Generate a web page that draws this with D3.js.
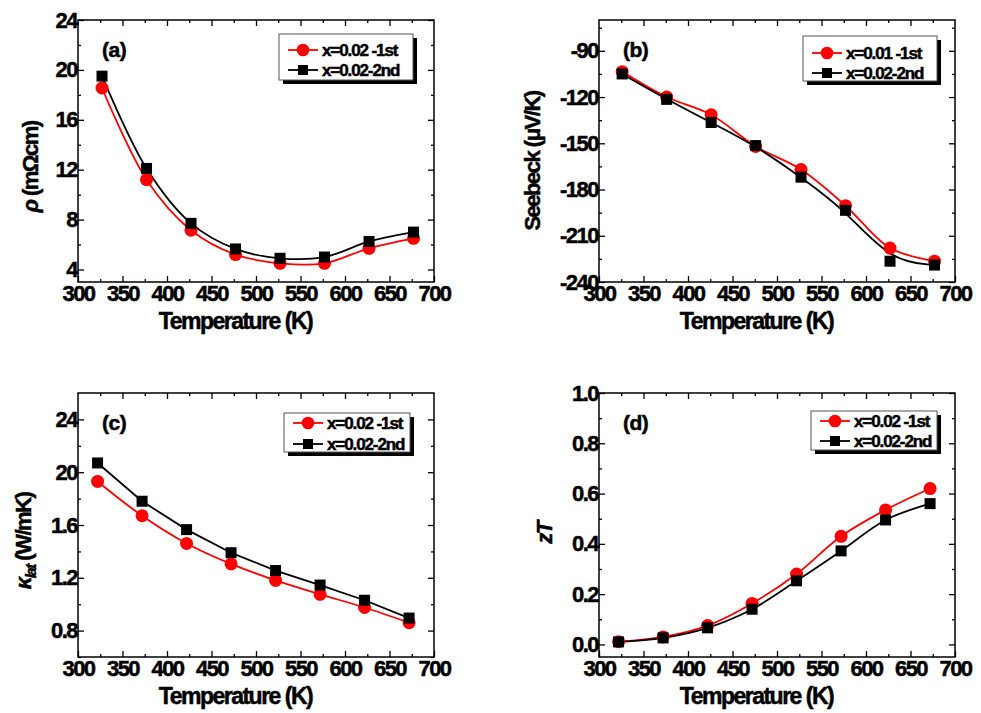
<!DOCTYPE html>
<html>
<head>
<meta charset="utf-8">
<script src="https://cdn.jsdelivr.net/npm/d3@7"></script>
<style>
  body { margin: 0; background: #fff; }
  svg { display: block; font-family: "Liberation Sans", Arial, sans-serif; font-weight: bold; }
  svg text { stroke: #000; stroke-width: 0.5px; }
</style>
</head>
<body>
<svg id="chart" width="981" height="713"></svg>
<script>
// temperatures (K)
const tempA = [327, 377, 427, 477, 527, 577, 627, 677];
const tempB = [326, 376, 426, 476, 527, 577, 627, 677];
const tempC = [322, 372, 422, 472, 522, 572, 622, 672];
const tempD = [322, 372, 422, 472, 522, 572, 622, 672];

// (a) resistivity
const rho1st = [18.55, 11.2, 7.15, 5.2, 4.5, 4.5, 5.7, 6.5];
const rho2nd = [19.5, 12.1, 7.7, 5.65, 4.9, 5.0, 6.25, 7.0];
// (b) Seebeck
const seebeck1st = [-103.5, -120, -131.5, -152, -167, -190.5, -218, -226.5];
const seebeck2nd = [-105, -121.5, -136.5, -151.5, -172, -193.5, -226.5, -229];
// (c) lattice thermal conductivity
const kappa1st = [1.93, 1.67, 1.46, 1.305, 1.18, 1.075, 0.975, 0.86];
const kappa2nd = [2.07, 1.78, 1.565, 1.39, 1.255, 1.145, 1.03, 0.895];
// (d) zT
const zt1st = [0.011, 0.03, 0.075, 0.163, 0.28, 0.43, 0.535, 0.62];
const zt2nd = [0.01, 0.026, 0.066, 0.14, 0.253, 0.372, 0.495, 0.56];

// tick labels
const xTicks = [300, 350, 400, 450, 500, 550, 600, 650, 700];
const ticksA = [4, 8, 12, 16, 20, 24];
const labelsA = ['4', '8', '12', '16', '20', '24'];
const ticksB = [-240, -210, -180, -150, -120, -90];
const labelsB = ['-240', '-210', '-180', '-150', '-120', '-90'];
const ticksC = [0.8, 1.2, 1.6, 2.0, 2.4];
const labelsC = ['0.8', '1.2', '1.6', '20', '24'];
const ticksD = [0, 0.2, 0.4, 0.6, 0.8, 1.0];
const labelsD = ['0.0', '0.2', '0.4', '0.6', '0.8', '1.0'];

const legendA = ['x=0.02 -1st', 'x=0.02-2nd'];
const legendB = ['x=0.01 -1st', 'x=0.02-2nd'];
const legendC = ['x=0.02 -1st', 'x=0.02-2nd'];
const legendD = ['x=0.02 -1st', 'x=0.02-2nd'];

const svg = d3.select('#chart');

const panels = [
  { tag: '(a)', box: [78, 20, 356, 262], yDom: [3, 24], yTicks: ticksA, yLabels: labelsA, minor: 2,
    t: tempA, s1: rho1st, s2: rho2nd, c1: d3.curveCatmullRom, c2: d3.curveCatmullRom,
    legend: legendA, lg: [279, 34, 134, 46], rows: [16, 36], ytX: 38, ytY: 167, ytitle: 'rho' },
  { tag: '(b)', box: [599, 20, 356, 262], yDom: [-240, -70], yTicks: ticksB, yLabels: labelsB, minor: 15,
    t: tempB, s1: seebeck1st, s2: seebeck2nd, c1: d3.curveCatmullRom, c2: d3.curveBasis,
    legend: legendB, lg: [803, 36, 134, 45], rows: [17, 37], ytX: 540, ytY: 161, ytitle: 'seebeck' },
  { tag: '(c)', box: [78, 393, 356, 264], yDom: [0.6, 2.6], yTicks: ticksC, yLabels: labelsC, minor: 0.2,
    t: tempC, s1: kappa1st, s2: kappa2nd, c1: d3.curveCatmullRom, c2: d3.curveLinear,
    legend: legendC, lg: [284, 413, 126, 39], rows: [10, 31], ytX: 31, ytY: 541, ytitle: 'kappa' },
  { tag: '(d)', box: [599, 393, 356, 264], yDom: [-0.05, 1.0], yTicks: ticksD, yLabels: labelsD, minor: 0.1,
    t: tempD, s1: zt1st, s2: zt2nd, c1: d3.curveCatmullRom, c2: d3.curveCatmullRom,
    legend: legendD, lg: [811, 411, 126, 39], rows: [10, 30], ytX: 552, ytY: 533, ytitle: 'zt' }
];

function styleAxis(g, size) {
  g.select('.domain').remove();
  g.selectAll('line').attr('stroke', '#000').attr('stroke-width', 1.3);
  g.selectAll('text')
    .attr('font-family', '"Liberation Sans", Arial, sans-serif')
    .attr('font-weight', 'bold')
    .attr('font-size', size)
    .attr('letter-spacing', '-1.5px')
    .attr('fill', '#000');
}

panels.forEach(p => {
  const [bx, by, bw, bh] = p.box;
  const x = d3.scaleLinear().domain([300, 700]).range([0, bw]);
  const y = d3.scaleLinear().domain(p.yDom).range([bh, 0]);
  const g = svg.append('g').attr('transform', `translate(${bx},${by})`);

  // minor ticks
  const xMinor = d3.range(325, 700, 50);
  const yMinor = d3.range(p.yTicks[0] - p.minor, p.yDom[1] + 1e-9, p.minor * 2)
    .filter(v => v > p.yDom[0] && v < p.yDom[1]);
  g.append('g').attr('transform', `translate(0,${bh})`)
    .call(d3.axisBottom(x).tickValues(xMinor).tickSize(-3).tickFormat(''))
    .call(a => styleAxis(a, 22));
  g.append('g')
    .call(d3.axisTop(x).tickValues(xMinor).tickSize(-3).tickFormat(''))
    .call(a => styleAxis(a, 22));
  g.append('g')
    .call(d3.axisLeft(y).tickValues(yMinor).tickSize(-3).tickFormat(''))
    .call(a => styleAxis(a, 22));
  g.append('g').attr('transform', `translate(${bw},0)`)
    .call(d3.axisRight(y).tickValues(yMinor).tickSize(-3).tickFormat(''))
    .call(a => styleAxis(a, 22));

  // major ticks
  g.append('g').attr('transform', `translate(0,${bh})`)
    .call(d3.axisBottom(x).tickValues(xTicks).tickSize(-6).tickPadding(3).tickFormat(d3.format('d')))
    .call(a => styleAxis(a, 22));
  g.append('g')
    .call(d3.axisTop(x).tickValues(xTicks.slice(1, -1)).tickSize(-6).tickFormat(''))
    .call(a => styleAxis(a, 22));
  g.append('g')
    .call(d3.axisLeft(y).tickValues(p.yTicks).tickSize(-6).tickPadding(1).tickFormat((d, i) => p.yLabels[i]))
    .call(a => styleAxis(a, 22));
  g.append('g').attr('transform', `translate(${bw},0)`)
    .call(d3.axisRight(y).tickValues(p.yTicks).tickSize(-6).tickFormat(''))
    .call(a => styleAxis(a, 22));

  // frame
  g.append('rect').attr('width', bw).attr('height', bh)
    .attr('fill', 'none').attr('stroke', '#000').attr('stroke-width', 1.5);

  // x title
  g.append('text')
    .attr('x', x(477)).attr('y', bh + 47)
    .attr('text-anchor', 'middle')
    .attr('font-size', 23).attr('letter-spacing', '-1.5px')
    .text('Temperature (K)');

  // panel tag
  g.append('text').attr('x', 24).attr('y', 37)
    .attr('font-size', 21).attr('letter-spacing', '-0.5px')
    .text(p.tag);

  // y title
  const yt = svg.append('text')
    .attr('transform', `translate(${p.ytX},${p.ytY}) rotate(-90)`)
    .attr('text-anchor', 'middle')
    .attr('font-size', 22).attr('letter-spacing', '-1.5px');
  if (p.ytitle === 'rho') {
    yt.append('tspan').attr('font-style', 'italic').text('\u03c1');
    yt.append('tspan').text(' (m\u03a9cm)');
  } else if (p.ytitle === 'seebeck') {
    yt.text('Seebeck (\u03bcV/K)');
  } else if (p.ytitle === 'kappa') {
    yt.append('tspan').attr('font-style', 'italic').text('\u03ba');
    yt.append('tspan').attr('font-style', 'italic').attr('font-size', 15).attr('dy', 5).text('lat');
    yt.append('tspan').attr('dy', -5).text(' (W/mK)');
  } else {
    yt.attr('font-style', 'italic').text('zT');
  }

  // series
  const pts1 = p.t.map((t, i) => [t, p.s1[i]]);
  const pts2 = p.t.map((t, i) => [t, p.s2[i]]);
  const line1 = d3.line().x(d => x(d[0])).y(d => y(d[1])).curve(p.c1);
  const line2 = d3.line().x(d => x(d[0])).y(d => y(d[1])).curve(p.c2);

  g.append('path').datum(pts1).attr('d', line1)
    .attr('fill', 'none').attr('stroke', '#ff0000').attr('stroke-width', 1.8);
  g.append('path').datum(pts2).attr('d', line2)
    .attr('fill', 'none').attr('stroke', '#000').attr('stroke-width', 1.8);

  g.selectAll('.c').data(pts1).join('circle')
    .attr('cx', d => x(d[0])).attr('cy', d => y(d[1])).attr('r', 6.5)
    .attr('fill', '#ff0000');
  g.selectAll('.s').data(pts2).join('rect')
    .attr('x', d => x(d[0]) - 5.5).attr('y', d => y(d[1]) - 5.5)
    .attr('width', 11).attr('height', 11).attr('fill', '#000');

  // legend
  const [lx, ly, lw, lh] = p.lg;
  const lg = svg.append('g');
  lg.append('rect').attr('x', lx + 4).attr('y', ly + 4).attr('width', lw).attr('height', lh).attr('fill', '#000');
  lg.append('rect').attr('x', lx).attr('y', ly).attr('width', lw).attr('height', lh)
    .attr('fill', '#fff').attr('stroke', '#555').attr('stroke-width', 1);
  [['#ff0000', 'c'], ['#000', 's']].forEach(([col, kind], i) => {
    const cy = ly + p.rows[i];
    lg.append('line').attr('x1', lx + 9).attr('x2', lx + 39).attr('y1', cy).attr('y2', cy)
      .attr('stroke', col).attr('stroke-width', 1.8);
    if (kind === 'c') {
      lg.append('circle').attr('cx', lx + 24).attr('cy', cy).attr('r', 6.3).attr('fill', col);
    } else {
      lg.append('rect').attr('x', lx + 19).attr('y', cy - 5).attr('width', 10).attr('height', 10).attr('fill', col);
    }
    lg.append('text').attr('x', lx + 43).attr('y', cy + 6)
      .attr('font-size', 17).attr('letter-spacing', '-1.1px')
      .text(p.legend[i]);
  });
});
</script>
</body>
</html>
